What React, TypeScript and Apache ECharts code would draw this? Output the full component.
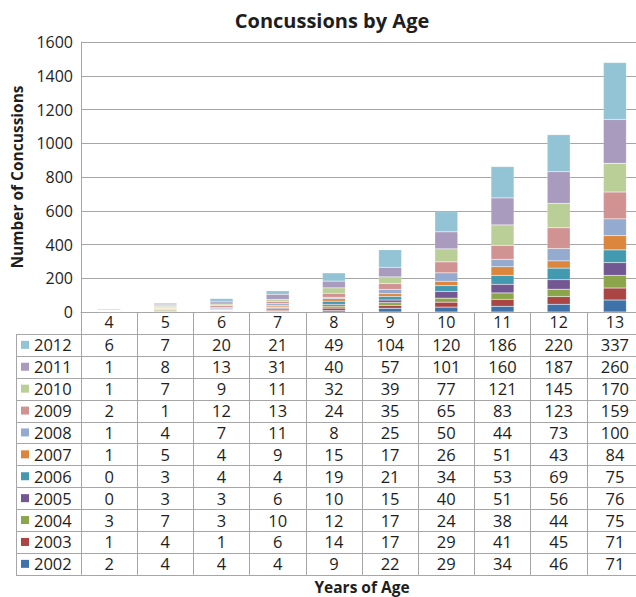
import React, { useEffect, useRef } from "react";
import * as echarts from "echarts";

const ages = ["4", "5", "6", "7", "8", "9", "10", "11", "12", "13"];
const years = ["2002", "2003", "2004", "2005", "2006", "2007", "2008", "2009", "2010", "2011", "2012"];

const v2002 = [2, 4, 4, 4, 9, 22, 29, 34, 46, 71];
const v2003 = [1, 4, 1, 6, 14, 17, 29, 41, 45, 71];
const v2004 = [3, 7, 3, 10, 12, 17, 24, 38, 44, 75];
const v2005 = [0, 3, 3, 6, 10, 15, 40, 51, 56, 76];
const v2006 = [0, 3, 4, 4, 19, 21, 34, 53, 69, 75];
const v2007 = [1, 5, 4, 9, 15, 17, 26, 51, 43, 84];
const v2008 = [1, 4, 7, 11, 8, 25, 50, 44, 73, 100];
const v2009 = [2, 1, 12, 13, 24, 35, 65, 83, 123, 159];
const v2010 = [1, 7, 9, 11, 32, 39, 77, 121, 145, 170];
const v2011 = [1, 8, 13, 31, 40, 57, 101, 160, 187, 260];
const v2012 = [6, 7, 20, 21, 49, 104, 120, 186, 220, 337];

const seriesValues = [v2002, v2003, v2004, v2005, v2006, v2007, v2008, v2009, v2010, v2011, v2012];

const colors = [
  "#4072AA", "#AA4543", "#8BA64A", "#735792", "#4299B0", "#DC853D",
  "#94AACF", "#D09392", "#BACF98", "#A99BBD", "#93C4D5",
];

const yTicks = { min: 0, max: 1600, interval: 200 };

const FONT = "'Open Sans'";
const TEXT = "#1E1E1E";
const LINE = "#A6A6A6";

// plot frame
const GRID_LEFT = 81;
const GRID_TOP = 42;
const GRID_W = 562;
const GRID_H = 270;
const ROW_H = 21.9;
const TABLE_LEFT = 16;

export default function App() {
  const ref = useRef<HTMLDivElement>(null);

  useEffect(() => {
    if (!ref.current) return;
    const chart = echarts.init(ref.current, null, { renderer: "svg" });
    const axisBottom = GRID_TOP + GRID_H;
    const headerBottom = axisBottom + ROW_H;
    const tableBottom = headerBottom + ROW_H * years.length;

    chart.setOption({
      animation: false,
      textStyle: { fontFamily: FONT },
      grid: { left: GRID_LEFT, top: GRID_TOP, width: GRID_W, height: GRID_H, containLabel: false },
      xAxis: {
        type: "category",
        data: ages,
        axisLine: { show: true, lineStyle: { color: LINE, width: 1 } },
        axisTick: { show: true, length: tableBottom - axisBottom, lineStyle: { color: LINE } },
        axisLabel: { fontSize: 16, color: TEXT, fontFamily: FONT, margin: 2 },
      },
      yAxis: {
        type: "value",
        min: yTicks.min,
        max: yTicks.max,
        interval: yTicks.interval,
        name: "Number of Concussions",
        nameLocation: "middle",
        nameGap: 56,
        nameTextStyle: { fontSize: 15.5, fontWeight: "bold", color: TEXT, fontFamily: FONT },
        axisLine: { show: true, lineStyle: { color: LINE } },
        axisTick: { show: false },
        axisLabel: { fontSize: 16, color: TEXT, fontFamily: FONT, margin: 8, formatter: (v: number) => String(v) },
        splitLine: { lineStyle: { color: LINE, width: 1 } },
      },
      series: years.map((y, i) => ({
        name: y,
        type: "bar",
        stack: "total",
        data: seriesValues[i],
        barWidth: 23,
        itemStyle: { color: colors[i], borderColor: "rgba(255,255,255,0.3)", borderWidth: 0.5 },
      })),
    });

    // data table under the axis
    const elements: any[] = [];
    elements.push({
      type: "text",
      x: 332,
      y: 20,
      style: { text: "Concussions by Age", font: `bold 20px ${FONT}`, fill: TEXT, align: "center", verticalAlign: "middle" },
    });
    elements.push({
      type: "text",
      x: GRID_LEFT + GRID_W / 2,
      y: 587,
      style: { text: "Years of Age", font: `bold 15.5px ${FONT}`, fill: TEXT, align: "center", verticalAlign: "middle" },
    });
    for (let k = 0; k <= years.length; k++) {
      const yy = Math.round(headerBottom + ROW_H * k) + 0.5;
      elements.push({
        type: "line",
        shape: { x1: TABLE_LEFT, y1: yy, x2: GRID_LEFT + GRID_W, y2: yy },
        style: { stroke: LINE, lineWidth: 1 },
      });
    }
    elements.push({
      type: "line",
      shape: { x1: TABLE_LEFT + 0.5, y1: headerBottom, x2: TABLE_LEFT + 0.5, y2: tableBottom + 0.5 },
      style: { stroke: LINE, lineWidth: 1 },
    });
    const rows = years.map((_, i) => i).reverse();
    rows.forEach((si, r) => {
      const cy = headerBottom + ROW_H * (r + 0.5);
      elements.push({
        type: "rect",
        shape: { x: 21, y: cy - 4, width: 8, height: 8 },
        style: { fill: colors[si] },
      });
      elements.push({
        type: "text",
        x: 34,
        y: cy,
        style: { text: years[si], font: `16.5px ${FONT}`, fill: TEXT, align: "left", verticalAlign: "middle" },
      });
      seriesValues[si].forEach((v, c) => {
        const px = chart.convertToPixel({ xAxisIndex: 0 }, ages[c]) as number;
        elements.push({
          type: "text",
          x: px,
          y: cy,
          style: { text: String(v), font: `16.5px ${FONT}`, fill: TEXT, align: "center", verticalAlign: "middle" },
        });
      });
    });
    chart.setOption({ graphic: { elements } });

    return () => chart.dispose();
  }, []);

  return (
    <div
      ref={ref}
      style={{ position: "fixed", left: 0, top: 0, width: 650, height: 597, background: "#fff" }}
    />
  );
}
